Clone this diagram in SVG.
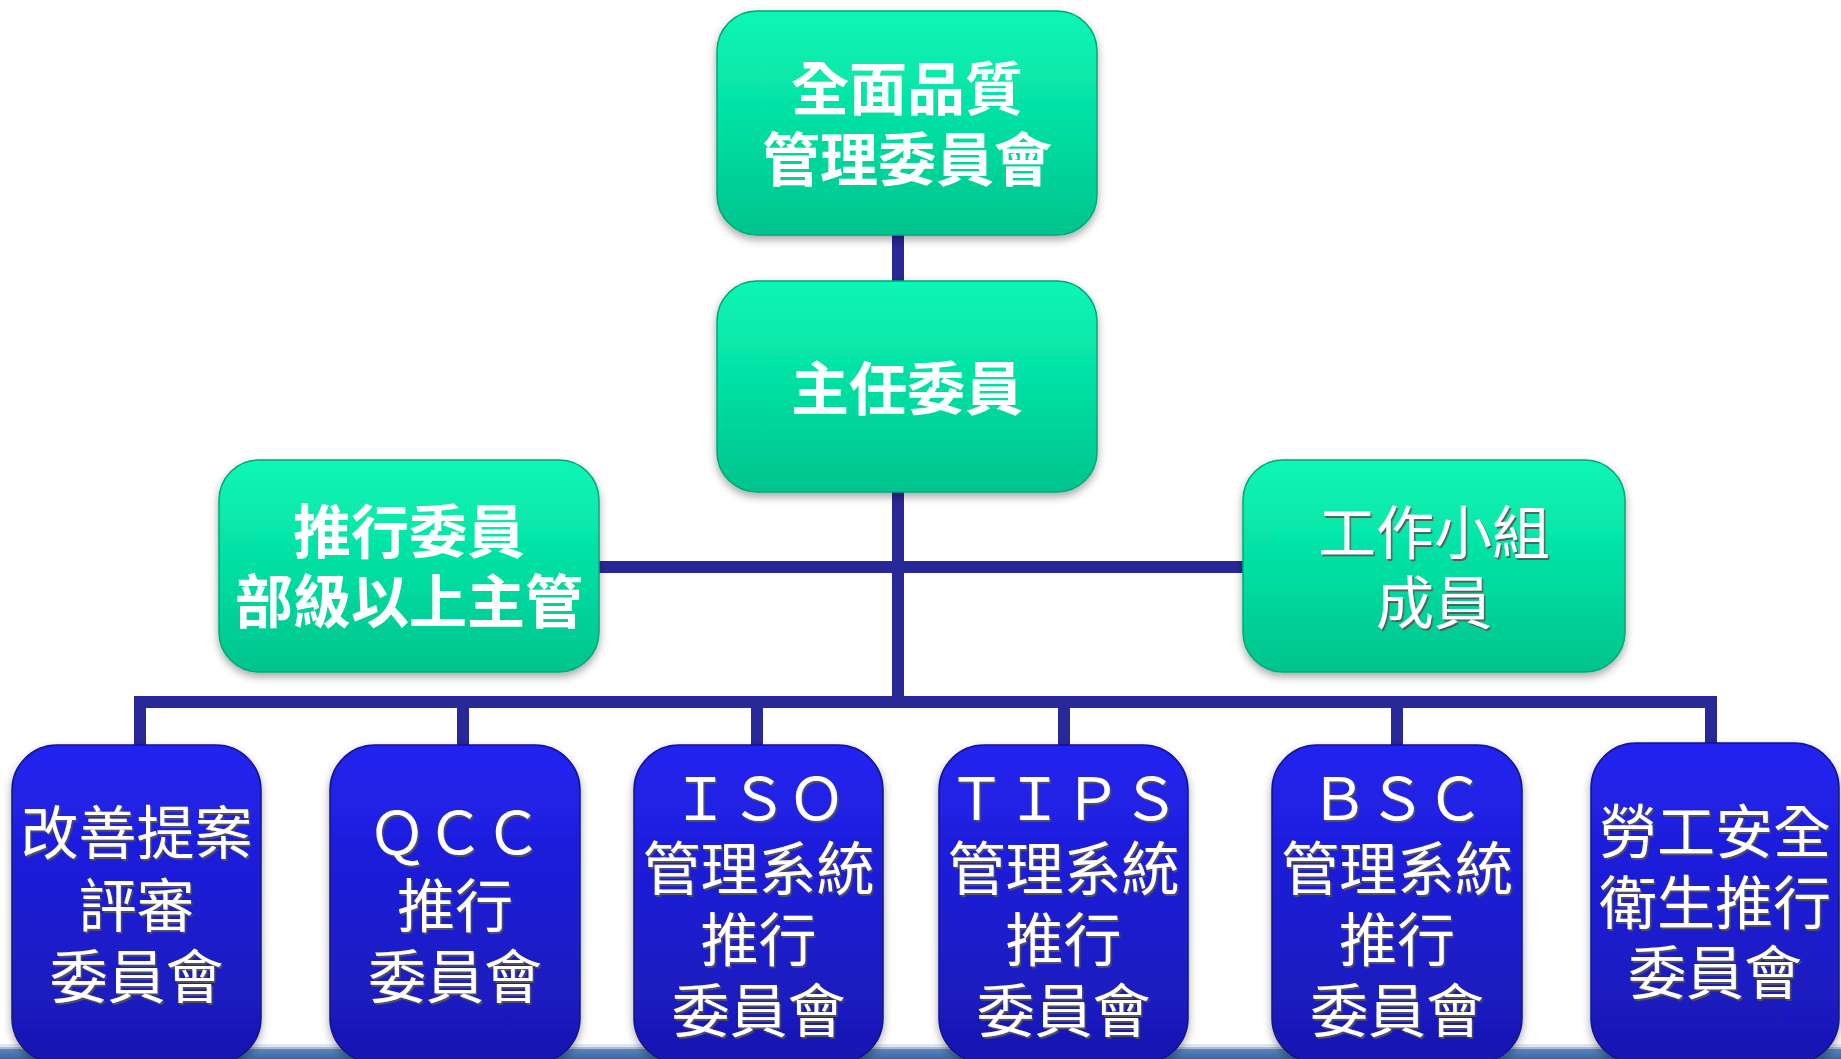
<svg xmlns="http://www.w3.org/2000/svg" width="1841" height="1059" viewBox="0 0 1841 1059">
<defs>
<style>
.g{fill:url(#gGreen);stroke:#02a77a;stroke-width:1.5;filter:url(#sh)}
.b{fill:url(#gBlue);stroke:#12128c;stroke-width:1.5;filter:url(#sh)}
.t{font-family:"Noto Sans CJK TC","Noto Sans CJK SC",sans-serif;font-size:58px;fill:#ffffff;text-anchor:middle}
.tb{font-weight:700}
.e{filter:url(#emb)}
.c{fill:none;stroke:#282896;stroke-width:12;stroke-linecap:butt;stroke-linejoin:miter}
</style>
<linearGradient id="gGreen" x1="0" y1="0" x2="0" y2="1">
<stop offset="0" stop-color="#0af6b6"/>
<stop offset="0.5" stop-color="#05dfa3"/>
<stop offset="1" stop-color="#03c38d"/>
</linearGradient>
<linearGradient id="gBlue" x1="0" y1="0" x2="0" y2="1">
<stop offset="0" stop-color="#2222f0"/>
<stop offset="0.5" stop-color="#1d1dd2"/>
<stop offset="1" stop-color="#1818b2"/>
</linearGradient>
<linearGradient id="gStrip" x1="0" y1="0" x2="0" y2="1">
<stop offset="0" stop-color="#5a86bf"/>
<stop offset="1" stop-color="#3a67a3"/>
</linearGradient>
<filter id="sh" x="-10%" y="-10%" width="120%" height="125%">
<feDropShadow dx="0" dy="4" stdDeviation="4" flood-color="#000" flood-opacity="0.35"/>
</filter>
<filter id="emb" x="-5%" y="-10%" width="110%" height="125%">
<feDropShadow dx="1.5" dy="2" stdDeviation="0.6" flood-color="#555" flood-opacity="0.9"/>
</filter>
</defs>
<rect x="0" y="0" width="1841" height="1059" fill="#ffffff"/>
<g id="bottom-strip">
<rect x="0" y="1044" width="1841" height="3" fill="#dfe6ee"/>
<rect x="0" y="1047" width="1841" height="2" fill="#a9bdd4"/>
<rect x="0" y="1049" width="1841" height="10" fill="url(#gStrip)"/>
</g>
<g id="connectors">
<path class="c" d="M898,235 V702"/>
<path class="c" d="M599,567 H1243"/>
<path class="c" d="M140,750 V702 H1711 V750"/>
<path class="c" d="M463,702 V750"/>
<path class="c" d="M757,702 V750"/>
<path class="c" d="M1064,702 V750"/>
<path class="c" d="M1397,702 V750"/>
</g>
<g id="node-top">
<rect class="g" x="717" y="11" width="380" height="224" rx="40"/>
<text class="t tb" x="907" y="110">全面品質</text>
<text class="t tb" x="907" y="181">管理委員會</text>
</g>
<g id="node-chair">
<rect class="g" x="717" y="281" width="380" height="211" rx="40"/>
<text class="t tb" x="907" y="410">主任委員</text>
</g>
<g id="node-promote">
<rect class="g" x="219" y="460" width="380" height="212" rx="40"/>
<text class="t tb" x="409" y="553">推行委員</text>
<text class="t tb" x="409" y="623">部級以上主管</text>
</g>
<g id="node-workgroup">
<rect class="g" x="1243" y="460" width="382" height="212" rx="40"/>
<text class="t e" x="1434" y="554">工作小組</text>
<text class="t e" x="1434" y="624">成員</text>
</g>
<g id="node-proposal">
<rect class="b" x="12" y="745" width="249" height="318" rx="45"/>
<text class="t e" x="136.5" y="854">改善提案</text>
<text class="t e" x="136.5" y="927">評審</text>
<text class="t e" x="136.5" y="998">委員會</text>
</g>
<g id="node-qcc">
<rect class="b" x="330" y="745" width="250" height="318" rx="45"/>
<text class="t e" x="455" y="854">ＱＣＣ</text>
<text class="t e" x="455" y="927">推行</text>
<text class="t e" x="455" y="998">委員會</text>
</g>
<g id="node-iso">
<rect class="b" x="634" y="745" width="249" height="318" rx="45"/>
<text class="t e" x="758.5" y="820">ＩＳＯ</text>
<text class="t e" x="758.5" y="890">管理系統</text>
<text class="t e" x="758.5" y="961">推行</text>
<text class="t e" x="758.5" y="1032">委員會</text>
</g>
<g id="node-tips">
<rect class="b" x="939" y="745" width="249" height="318" rx="45"/>
<text class="t e" x="1063.5" y="820">ＴＩＰＳ</text>
<text class="t e" x="1063.5" y="890">管理系統</text>
<text class="t e" x="1063.5" y="961">推行</text>
<text class="t e" x="1063.5" y="1032">委員會</text>
</g>
<g id="node-bsc">
<rect class="b" x="1272" y="745" width="250" height="318" rx="45"/>
<text class="t e" x="1397" y="820">ＢＳＣ</text>
<text class="t e" x="1397" y="890">管理系統</text>
<text class="t e" x="1397" y="961">推行</text>
<text class="t e" x="1397" y="1032">委員會</text>
</g>
<g id="node-safety">
<rect class="b" x="1591" y="743" width="248" height="320" rx="45"/>
<text class="t e" x="1715" y="853">勞工安全</text>
<text class="t e" x="1715" y="924">衛生推行</text>
<text class="t e" x="1715" y="994">委員會</text>
</g>
</svg>
